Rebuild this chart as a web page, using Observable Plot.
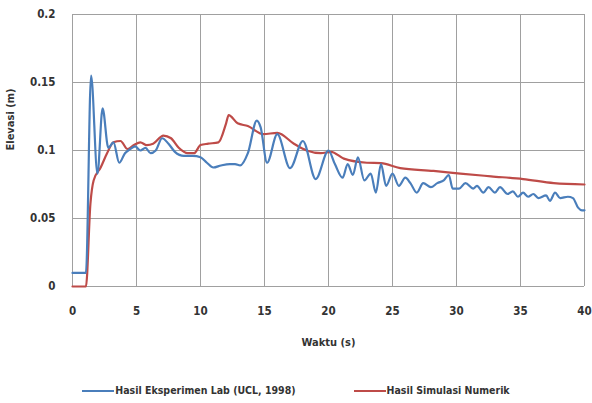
<!DOCTYPE html>
<html>
<head>
<meta charset="utf-8">
<script src="https://cdn.jsdelivr.net/npm/d3@7"></script>
<script src="https://cdn.jsdelivr.net/npm/@observablehq/plot@0.6"></script>
<style>
  body { margin: 0; background: #fff; }
  #chart { width: 592px; }
  .legend { display: flex; justify-content: center; gap: 58px; align-items: center; height: 38px; margin-top: 6px;
    font-family: "Liberation Sans Narrow", "DejaVu Sans Condensed", sans-serif; font-size: 10.5px; font-weight: bold; color: #333; }
  .legend span.sw { display: inline-block; width: 32px; height: 2px; vertical-align: middle; margin-right: 1px; }
</style>
</head>
<body>
<div id="chart"></div>
<script>
const seriesNames = ["Hasil Eksperimen Lab (UCL, 1998)", "Hasil Simulasi Numerik"];
const seriesColors = ["#4a7ebb", "#be4b48"];

const labTime = [0, 1.05, 1.45, 1.95, 2.35, 2.8, 3.2, 3.65, 4.1, 4.5, 4.9, 5.3, 5.7, 6.1, 6.5, 7.0, 7.5, 8.0, 8.7, 9.4, 10.0, 10.5, 11.0, 11.6, 12.3, 12.7, 13.1, 13.7, 14.4, 14.7, 15.2, 16.0, 17.0, 18.0, 19.0, 20.0, 20.5, 21.1, 21.5, 21.9, 22.3, 22.8, 23.3, 23.7, 24.1, 24.5, 25.0, 25.5, 26.0, 26.4, 26.9, 27.4, 28.0, 28.5, 29.0, 29.4, 29.7, 30.2, 30.7, 31.3, 31.6, 32.1, 32.5, 33.0, 33.4, 34.0, 34.4, 34.8, 35.2, 35.6, 36.0, 36.4, 37.0, 37.3, 37.7, 38.1, 38.7, 39.1, 39.5, 39.8, 40.0];
const labElev = [0.01, 0.01, 0.155, 0.083, 0.131, 0.102, 0.106, 0.091, 0.098, 0.101, 0.103, 0.1, 0.102, 0.098, 0.1, 0.109, 0.105, 0.099, 0.096, 0.096, 0.095, 0.091, 0.0875, 0.089, 0.09, 0.09, 0.089, 0.098, 0.122, 0.117, 0.091, 0.112, 0.087, 0.107, 0.079, 0.1, 0.09, 0.08, 0.09, 0.082, 0.095, 0.078, 0.083, 0.069, 0.09, 0.074, 0.083, 0.074, 0.08, 0.076, 0.069, 0.076, 0.073, 0.076, 0.078, 0.082, 0.072, 0.072, 0.076, 0.072, 0.074, 0.069, 0.073, 0.069, 0.073, 0.068, 0.07, 0.066, 0.069, 0.066, 0.068, 0.065, 0.067, 0.063, 0.069, 0.065, 0.066, 0.065, 0.058, 0.056, 0.056];

const numTime = [0, 1.05, 1.4, 1.65, 2.2, 2.7, 3.2, 3.75, 4.3, 4.8, 5.3, 5.8, 6.3, 7.1, 7.7, 8.3, 9.0, 9.5, 10.0, 10.6, 11.4, 12.0, 12.2, 12.9, 13.7, 14.9, 16.0, 17.3, 18.3, 19.4, 20.2, 21.2, 23.0, 24.1, 25.6, 28.2, 30.3, 32.7, 35.2, 37.6, 40.0];
const numElev = [0, 0, 0.061, 0.078, 0.0875, 0.098, 0.106, 0.107, 0.101, 0.104, 0.106, 0.104, 0.105, 0.111, 0.109, 0.102, 0.098, 0.098, 0.104, 0.105, 0.106, 0.12, 0.126, 0.12, 0.118, 0.112, 0.113, 0.105, 0.1, 0.098, 0.099, 0.094, 0.091, 0.0907, 0.087, 0.085, 0.083, 0.081, 0.079, 0.076, 0.075];

const xTicks = [0, 5, 10, 15, 20, 25, 30, 35, 40];
const yTicks = [0, 0.05, 0.1, 0.15, 0.2];
const xLabel = "Waktu (s)";
const yLabel = "Elevasi (m)";

const lab = labTime.map((t, i) => ({t, e: labElev[i]}));
const num = numTime.map((t, i) => ({t, e: numElev[i]}));

const font = '"Liberation Sans Narrow", "DejaVu Sans Condensed", sans-serif';

const chart = Plot.plot({
  width: 592,
  height: 365,
  marginLeft: 72,
  marginRight: 8,
  marginTop: 14,
  marginBottom: 79,
  style: {fontFamily: font, fontSize: "11.5px", color: "#333", background: "#fff"},
  x: {domain: [0, 40], ticks: xTicks, label: null},
  y: {domain: [0, 0.2], ticks: yTicks, label: null},
  marks: [
    Plot.gridX(xTicks, {stroke: "#a0a0a0", strokeOpacity: 1, strokeWidth: 1}),
    Plot.gridY(yTicks, {stroke: "#a0a0a0", strokeOpacity: 1, strokeWidth: 1}),
    Plot.axisX(xTicks, {tickSize: 0, tickPadding: 20, tickFormat: d => String(d), fontWeight: "bold"}),
    Plot.axisY(yTicks, {tickSize: 0, tickPadding: 17, tickFormat: d => String(d), fontWeight: "bold"}),
    Plot.line(num, {x: "t", y: "e", stroke: seriesColors[1], strokeWidth: 2.2, curve: "monotone-x"}),
    Plot.line(lab, {x: "t", y: "e", stroke: seriesColors[0], strokeWidth: 2.2, curve: "monotone-x"}),
    Plot.text([xLabel], {frameAnchor: "bottom", dy: 59, fontWeight: "bold", fontSize: 11, fill: "#333"}),
    Plot.text([yLabel], {frameAnchor: "left", dx: -62, rotate: -90, fontWeight: "bold", fontSize: 11, fill: "#333"})
  ]
});
document.getElementById("chart").appendChild(chart);

const legend = document.createElement("div");
legend.className = "legend";
seriesNames.forEach((name, i) => {
  const item = document.createElement("div");
  const sw = document.createElement("span");
  sw.className = "sw";
  sw.style.background = seriesColors[i];
  item.appendChild(sw);
  item.appendChild(document.createTextNode(name));
  legend.appendChild(item);
});
document.getElementById("chart").appendChild(legend);
</script>
</body>
</html>
